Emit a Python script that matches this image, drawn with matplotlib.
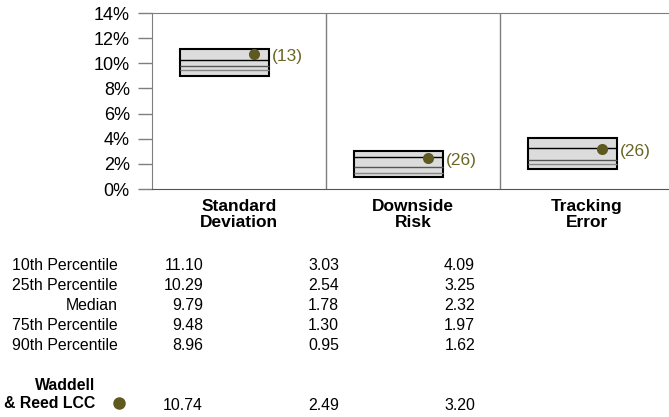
import matplotlib
matplotlib.use("Agg")
import matplotlib.pyplot as plt
from matplotlib.patches import Rectangle
from matplotlib.ticker import FuncFormatter

plt.rcParams['font.family'] = ['Liberation Sans', 'DejaVu Sans']

# Risk statistics for the peer universe and the fund
categories = ["Standard\nDeviation", "Downside\nRisk", "Tracking\nError"]
p10 = [11.10, 3.03, 4.09]
p25 = [10.29, 2.54, 3.25]
median = [9.79, 1.78, 2.32]
p75 = [9.48, 1.30, 1.97]
p90 = [8.96, 0.95, 1.62]
fund = [10.74, 2.49, 3.20]
fund_rank = [13, 26, 26]
fund_name = "Waddell\n& Reed LCC"
row_labels = ["10th Percentile", "25th Percentile", "Median",
              "75th Percentile", "90th Percentile"]
yticks = [0, 2, 4, 6, 8, 10, 12, 14]

W, H = 669, 417
fig = plt.figure(figsize=(W / 100, H / 100), dpi=100)
ax = fig.add_axes([152 / W, 1 - 189 / H, 517 / W, 176 / H])

box_fill = "#dcdcdc"
dot_color = "#5e5a1f"
label_color = "#6b6626"

for i in range(len(categories)):
    x0, bw = i + 0.16, 0.51
    ax.add_patch(Rectangle((x0, p90[i]), bw, p10[i] - p90[i],
                           facecolor=box_fill, edgecolor="black", lw=1.5, zorder=2))
    ax.hlines(p25[i], x0, x0 + bw, color="black", lw=1.0, zorder=3)
    ax.hlines(median[i], x0, x0 + bw, color="#555555", lw=1.0, zorder=3)
    ax.hlines(p75[i], x0, x0 + bw, color="#888888", lw=1.0, zorder=3)
    ax.scatter(i + 0.586, fund[i], s=64, color=dot_color, zorder=4, linewidths=0)
    ax.text(i + 0.69, fund[i] - 0.2, f"({fund_rank[i]})", color=label_color,
            fontsize=12.5, va="center", ha="left")

for xd in (1, 2):
    ax.axvline(xd, color="#7f7f7f", lw=1.0, zorder=1)

ax.set_xlim(0, 517 / 174)
ax.set_ylim(0, 14)
ax.set_yticks(yticks)
ax.yaxis.set_major_formatter(FuncFormatter(lambda v, _: f"{v:.0f}%"))
ax.tick_params(axis="y", length=10, width=1, color="#7f7f7f", labelsize=13, pad=6)
ax.set_xticks([0.5, 1.5, 2.5])
ax.set_xticklabels(categories, fontweight="bold", fontsize=12.5, linespacing=1.12)
ax.tick_params(axis="x", length=0, pad=7)
for side in ("left", "top"):
    ax.spines[side].set_color("#7f7f7f")
ax.spines["bottom"].set_color("#555555")
ax.spines["right"].set_visible(False)

# Percentile table beneath the chart
col_right = [203, 339, 475]
row_y = [266, 286, 306, 326, 346]
table_vals = [p10, p25, median, p75, p90]
for r, (lab, vals) in enumerate(zip(row_labels, table_vals)):
    y = 1 - row_y[r] / H
    fig.text(118 / W, y, lab, ha="right", va="center", fontsize=11.4)
    for c in range(3):
        fig.text(col_right[c] / W, y, f"{vals[c]:.2f}", ha="right", va="center",
                 fontsize=11.4)

fig.text(95 / W, 1 - 395 / H, fund_name, ha="right", va="center", fontsize=11.4,
         fontweight="bold", linespacing=1.25, multialignment="right")
fig.add_artist(plt.Line2D([119 / W], [1 - 403 / H], marker="o", markersize=8,
                          color=dot_color, transform=fig.transFigure, lw=0))
for c in range(3):
    fig.text(col_right[c] / W, 1 - 405 / H, f"{fund[c]:.2f}", ha="right",
             va="center", fontsize=11.4)

fig.savefig("out.png", dpi=100)
